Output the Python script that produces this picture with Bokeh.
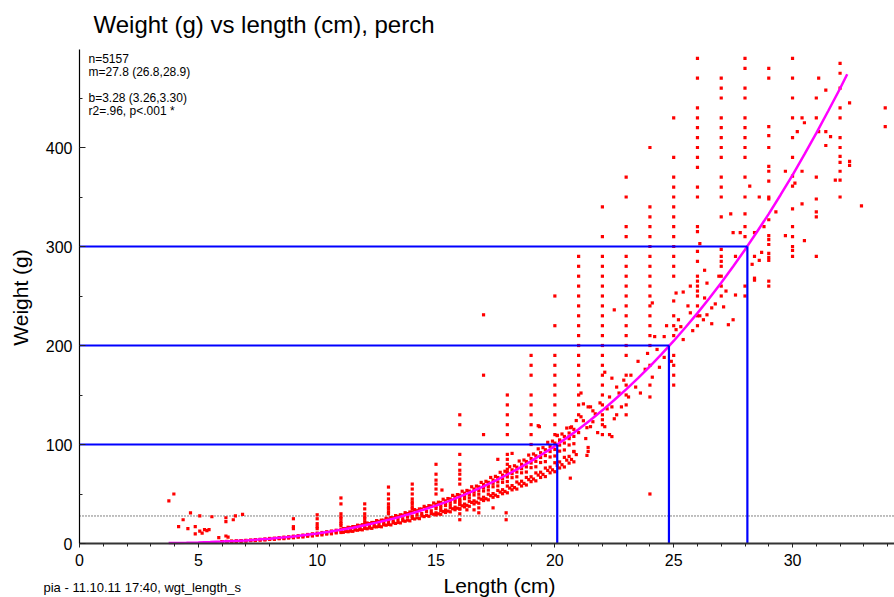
import math
from bokeh.plotting import figure
from bokeh.models import Range1d, SingleIntervalTicker, Label
from bokeh.embed import file_html
from bokeh.resources import INLINE

# ---------------- data ----------------
title_text = "Weight (g) vs length (cm), perch"
x_label = "Length (cm)"
y_label = "Weight (g)"
stats_lines = ["n=5157", "m=27.8 (26.8,28.9)", "b=3.28 (3.26,3.30)", "r2=.96, p<.001 *"]
footer_text = "pia - 11.10.11 17:40, wgt_length_s"

x_max = 34.29      # right end of the length axis
y_max = 499        # top end of the weight axis
mean_weight = 27.8

# reference lengths at 100, 200 and 300 g (blue lines)
ref_len = [20.1, 24.8, 28.1]
ref_wgt = [100, 200, 300]

# fitted curve (magenta)
curve_len = [3.75, 4, 4.5, 5, 5.5, 6, 6.5, 7, 7.5, 8, 8.5, 9, 9.5, 10, 10.5, 11, 11.5, 12,
             12.5, 13, 13.5, 14, 14.5, 15, 15.5, 16, 16.5, 17, 17.5, 18, 18.5, 19, 19.5, 20,
             20.5, 21, 21.5, 22, 22.5, 23, 23.5, 24, 24.5, 25, 25.5, 26, 26.5, 27, 27.5, 28,
             28.5, 29, 29.5, 30, 30.5, 31, 31.5, 32, 32.3]
curve_wgt = [0.40, 0.50, 0.74, 1.04, 1.43, 1.90, 2.47, 3.15, 3.94, 4.87, 5.94, 7.17, 8.57, 10.1,
             11.9, 13.8, 16.0, 18.4, 21.1, 23.9, 27.1, 30.6, 34.3, 38.3, 42.6, 47.3, 52.4, 57.7,
             63.5, 69.7, 76.2, 83.2, 90.6, 98.4, 106.7, 115.5, 124.8, 134.5, 144.9, 155.7, 167.0,
             179.0, 191.5, 204.6, 218.4, 232.7, 247.7, 263.3, 279.8, 296.8, 314.6, 333.0, 352.3,
             372.2, 393.0, 414.5, 436.9, 459.6, 474.0]

# dense band of fish along the curve: length -> weights
band = {
    6.0: (1.5, 1.8, 2.0), 6.2: (1.8, 1.9, 2.2), 6.4: (1.9, 2.2, 2.4), 6.6: (2.0, 2.4, 2.7),
    6.8: (2.4, 2.6, 3.0), 7.0: (2.5, 2.9, 3.3), 7.2: (2.9, 3.2, 3.5), 7.4: (3.0, 3.5, 3.9),
    7.6: (3.4, 3.8, 4.2), 7.8: (3.6, 4.0, 4.6), 8.0: (4.1, 4.5, 5.1), 8.2: (4.2, 4.9, 5.4),
    8.4: (4.8, 5.2, 5.9), 8.6: (4.9, 5.6, 6.4), 8.8: (5.5, 6.1, 6.8), 9.0: (5.8, 6.6, 7.4),
    9.2: (6.4, 7.0, 7.9), 9.4: (6.6, 7.6, 8.5), 9.6: (7.3, 8.1, 9.1), 9.8: (7.6, 8.7, 9.8),
    10.0: (8.4, 9.1, 10.5), 10.2: (8.7, 9.9, 11.1), 10.4: (9.5, 10.3, 11.9), 10.6: (9.8, 11.2, 12.6),
    10.8: (10.7, 11.7, 13.4), 11.0: (11.1, 12.8, 14.3), 11.2: (12.2, 13.2, 15.1), 11.4: (12.5, 14.3, 16.0),
    11.6: (13.6, 14.8, 17.0), 11.8: (14.1, 16.0, 17.9), 12.0: (15.3, 16.5, 19.1), 12.2: (15.7, 17.9, 20.1),
    12.4: (16.9, 18.4, 21.2), 12.6: (17.3, 19.8, 22.3), 12.8: (18.9, 20.5, 23.5), 13.0: (19.3, 22.0, 24.8),
    13.2: (20.9, 22.6, 26.0), 13.4: (21.3, 24.3, 27.4), 13.6: (23.0, 25.0, 28.7), 13.8: (23.6, 26.8, 30.2),
    14.0: (25.4, 27.5, 31.8), 14.2: (25.9, 29.4, 33.1), 14.4: (27.9, 30.2, 34.8), 14.6: (28.4, 32.3, 36.2),
    14.8: (30.4, 33.0, 37.9), 15.0: (31.0, 35.3, 39.6), 15.2: (33.3, 36.0, 41.4), 15.4: (33.8, 38.4, 43.1),
    15.6: (36.2, 39.1, 45.0), 15.8: (36.7, 41.7, 46.9), 16.0: (39.3, 42.5, 48.9), 16.2: (39.8, 45.3, 50.8),
    16.4: (42.6, 46.1, 52.9), 16.6: (43.1, 49.0, 55.0), 16.8: (46.0, 49.8, 57.2), 17.0: (46.7, 53.1, 59.6),
    17.2: (49.8, 54.0, 61.8), 17.4: (50.4, 57.3, 64.1), 17.6: (53.6, 58.2, 66.6), 17.8: (54.3, 61.8, 69.1),
    18.0: (58.0, 62.6, 71.9), 18.2: (58.5, 66.5, 74.4), 18.4: (62.1, 67.4, 77.1), 18.6: (62.9, 71.4, 80.0),
    18.8: (66.7, 72.2, 82.8), 19.0: (67.4, 76.6, 85.8), 19.2: (71.3, 77.5, 88.6), 19.4: (72.0, 81.8, 91.7),
    19.6: (76.2, 82.7, 94.7), 19.8: (77.1, 87.4, 98.0), 20.0: (81.6, 88.4, 101.4), 20.2: (82.4, 93.3, 104.6),
    20.4: (87.0, 94.5, 108.1), 20.6: (88.0, 99.5, 111.6), 20.8: (92.7, 100.8, 115.3),
}
band2 = {
    11.1: (11.3, 15.1), 11.3: (11.9, 16.4), 11.5: (12.3, 17.1), 11.7: (13.4, 18.5), 11.9: (13.8, 19.0),
    12.1: (14.9, 20.7), 12.3: (15.3, 21.2), 12.5: (16.8, 23.1), 12.7: (16.9, 23.6), 12.9: (18.5, 25.5),
    13.1: (18.8, 26.2), 13.3: (20.3, 28.2), 13.5: (20.8, 29.0), 13.7: (22.5, 31.1), 13.9: (22.9, 31.8),
    14.1: (24.8, 34.2), 14.3: (25.1, 34.9), 14.5: (27.2, 37.5), 14.7: (27.5, 38.2), 14.9: (29.6, 40.9),
    15.1: (30.0, 41.7), 15.3: (32.3, 44.7), 15.5: (32.7, 45.4), 15.7: (35.1, 48.6), 15.9: (35.6, 49.4),
    16.1: (38.1, 52.8), 16.3: (38.6, 53.6), 16.5: (41.5, 57.3), 16.7: (41.8, 58.0), 16.9: (44.7, 61.7),
    17.1: (45.2, 62.8), 17.3: (48.3, 66.7), 17.5: (48.8, 67.8), 17.7: (51.9, 71.9), 17.9: (52.6, 73.0),
    18.1: (56.0, 77.6), 18.3: (56.5, 78.5), 18.5: (60.2, 83.3), 18.7: (60.7, 84.3), 18.9: (64.5, 89.3),
    19.1: (65.1, 90.4), 19.3: (69.1, 95.6), 19.5: (69.8, 96.8), 19.7: (73.8, 102.2), 19.9: (74.4, 103.4),
    20.1: (79.0, 109.3), 20.3: (79.6, 110.6), 20.5: (84.2, 116.6), 20.7: (84.9, 117.8), 20.9: (89.8, 124.2),
}
band3 = {
    15.0: (28.9, 37.3), 15.2: (29.5, 38.6), 15.4: (31.3, 40.7), 15.6: (32.0, 42.0), 15.8: (34.1, 44.2),
    16.0: (34.8, 45.6), 16.2: (37.0, 48.1), 16.4: (37.6, 49.4), 16.6: (40.0, 52.0), 16.8: (40.7, 53.4),
    17.0: (43.4, 56.3), 17.2: (44.1, 57.7), 17.4: (46.7, 60.8), 17.6: (47.5, 62.2), 17.8: (50.3, 65.4),
    18.0: (51.2, 67.3), 18.2: (54.2, 70.6), 18.4: (55.0, 72.2), 18.6: (58.1, 75.6), 18.8: (59.1, 77.4),
    19.0: (62.5, 81.3), 19.2: (63.3, 83.0), 19.4: (66.7, 86.9), 19.6: (67.6, 88.8), 19.8: (71.4, 92.9),
    20.0: (72.5, 95.0), 20.2: (76.3, 99.4), 20.4: (77.3, 101.5), 20.6: (81.2, 105.9), 20.8: (82.5, 108.2),
}

# fish measured to whole cm, weighed to 10 g: length -> weights
columns = {
    9: [25, 17, 15],
    10: [29, 25, 20, 17, 15],
    11: [46, 40, 30, 27, 25, 22, 20, 18],
    12: [40, 35, 30, 27, 25, 22],
    13: [57, 50, 45, 40, 37, 35, 32, 30],
    14: [60, 55, 50, 45, 42, 40, 37, 35],
    15: [80, 70, 64, 60, 55, 50],
    16: [130, 120, 90, 80, 74, 70, 65, 60, 43, 40, 35, 30, 24],
    17: [231, 170, 110],
    18: [150, 140, 130, 120, 110, 90, 85, 80, 75, 70],
    19: [190, 180, 170, 150, 140, 130, 120, 110, 100],
    20: [250, 220, 190, 180, 170, 160, 150, 140, 130, 120, 110],
    21: [290, 280, 270, 260, 250, 240, 230, 220, 210, 200, 190, 180, 170, 160, 150, 140, 130],
    22: [340, 310, 290, 280, 270, 260, 250, 240, 230, 220, 210, 200, 190, 180, 170, 160, 150,
         140, 130, 120, 110],
    23: [370, 350, 320, 310, 290, 280, 270, 260, 250, 240, 230, 220, 210, 200, 190, 170, 160,
         150, 140, 130],
    24: [400, 340, 330, 320, 310, 300, 290, 280, 270, 260, 250, 240, 230, 220, 210, 200, 180,
         160, 148, 50],
    25: [430, 390, 370, 360, 350, 340, 330, 320, 310, 300, 290, 280, 270, 245, 230, 220, 210,
         190, 180, 170, 160],
    26: [490, 470, 440, 430, 420, 410, 400, 390, 380, 360, 350, 320, 315, 295, 285, 270, 265,
         260, 255, 250, 240, 230, 220],
    27: [470, 460, 450, 430, 420, 410, 400, 390, 370, 360, 350, 330, 297, 290, 285, 280, 270,
         260, 250],
    28: [490, 480, 460, 450, 430, 420, 410, 400, 390, 370, 350, 333, 320, 310, 260, 250],
    29: [480, 470, 421, 412, 400, 381, 376, 366, 350, 348, 327, 311, 307, 302, 293, 286, 265, 260],
    30: [490, 470, 450, 430, 410, 390, 371, 361, 338, 320, 310, 300, 296, 290],
    31: [450, 430, 370, 348, 335, 330, 290],
    32: [485, 475, 460, 440, 430, 410, 400, 391, 385, 376, 367, 350],
}

# scattered individual fish
misc_pts = [
    (3.76, 43), (3.97, 50), (4.17, 17), (4.36, 24), (4.56, 15), (4.67, 31), (4.87, 17), (4.87, 9.7),
    (5.06, 28), (5.06, 12.5), (5.16, 10.5), (5.26, 14), (5.36, 13), (5.45, 14), (5.57, 27), (5.86, 6),
    (6.16, 26), (6.16, 22), (6.16, 7.6), (6.25, 6.5), (6.47, 24), (6.56, 28), (6.86, 29.4),
    (15.25, 54), (16.3, 34), (16.6, 34), (16.8, 36), (16.8, 31), (17.4, 36), (17.95, 31), (17.95, 24),
    (18.2, 91), (17.6, 85), (19.35, 118), (19.3, 119), (20.1, 109), (20.2, 104), (20.6, 108),
    (20.65, 117), (20.8, 93), (21.35, 89), (21.35, 117), (21.2, 124), (21.6, 134), (21.4, 138),
    (21.1, 152), (21.2, 141), (21.5, 138), (21.6, 123), (21.4, 97), (21.4, 93), (20.65, 66),
    (22.1, 173), (22.4, 167), (22.6, 158), (22.4, 138), (22.6, 130), (22.4, 108), (22.2, 136),
    (22.3, 110), (22.5, 236), (24.1, 243), (24.2, 209), (24.6, 209), (25.1, 253), (25.4, 254),
    (25.7, 260), (26.1, 303), (26.3, 276), (26.4, 263), (26.6, 238), (26.75, 242), (27.1, 239),
    (27.3, 221), (27.5, 226), (27.4, 333), (27.5, 314), (27.8, 314), (27.6, 251), (28.4, 314),
    (28.4, 290), (28.7, 294), (29.0, 289), (28.4, 268), (28.6, 286), (28.4, 266), (26.4, 231),
    (26.25, 226), (25.3, 219), (25.1, 216), (25.7, 233), (28.2, 361), (28.6, 350), (29.7, 376),
    (29.7, 311), (30.1, 364), (30.4, 430), (30.5, 425), (30.2, 416), (30.4, 376), (30.4, 343),
    (30.5, 306), (31.1, 470), (31.4, 458), (31.1, 416), (31.4, 416), (31.6, 411), (31.4, 402),
    (32.4, 445), (32.4, 386), (32.4, 382), (32.9, 341), (31.8, 367), (33.9, 440), (33.9, 421),
]
cloud_pts = [
    (21.0, 112), (21.1, 128), (21.3, 106), (21.5, 118), (21.7, 131), (21.8, 112), (21.9, 142),
    (22.0, 125), (22.1, 118), (22.3, 148), (22.5, 126), (22.7, 152), (22.8, 138), (22.9, 165),
    (23.1, 148), (23.2, 170), (23.4, 158), (23.5, 184), (23.6, 152), (23.8, 176), (23.9, 192),
    (24.1, 168), (24.3, 196), (24.4, 178), (24.6, 188), (24.7, 220), (24.9, 184), (25.2, 226),
    (25.4, 206), (25.6, 240), (25.8, 215), (26.1, 230), (26.3, 248), (26.6, 222), (26.9, 270),
    (27.2, 255), (27.6, 290), (28.3, 282), (28.8, 320), (29.3, 335),
]

# ---------------- assemble points ----------------
pts_x, pts_y = [], []
for group in (band, band2, band3, columns):
    for L, ws in group.items():
        for w in ws:
            pts_x.append(L); pts_y.append(w)
for L, w in misc_pts + cloud_pts:
    pts_x.append(L); pts_y.append(w)

FONT = "Liberation Sans"
W, H = 894, 597
PLOT_LEFT, PLOT_BOTTOM = 79, 54          # pixel position of the axes origin on the canvas
PX_X = (W - PLOT_LEFT) / x_max           # pixels per cm
PX_Y = 0.99                              # pixels per gram

# the frame covers the whole canvas; the axes sit at the data origin (fixed_location),
# so every text, including the title and the footer, can be placed freely on it
p = figure(width=W, height=H, output_backend="svg", toolbar_location=None,
           x_range=Range1d(-PLOT_LEFT / PX_X, x_max),
           y_range=Range1d(-PLOT_BOTTOM / PX_Y, (H - PLOT_BOTTOM) / PX_Y),
           min_border=0)
p.outline_line_color = None
p.grid.visible = False
p.title.visible = False
p.background_fill_color = "white"
p.border_fill_color = "white"

xa = p.xaxis[0]
ya = p.yaxis[0]
xa.fixed_location = 0
ya.fixed_location = 0
xa.bounds = (0, x_max)
ya.bounds = (0, y_max)
xa.ticker = SingleIntervalTicker(interval=5, num_minor_ticks=5)
ya.ticker = SingleIntervalTicker(interval=100, num_minor_ticks=2)
for ax in (xa, ya):
    ax.major_label_text_font = FONT
    ax.major_label_text_font_size = "16px"
    ax.major_label_text_color = "black"
    ax.major_tick_line_color = "#222222"
    ax.minor_tick_line_color = "#222222"
xa.axis_line_width = 2
xa.axis_line_color = "#333333"
xa.major_tick_in = 0
xa.major_tick_out = 4
xa.minor_tick_in = 0
xa.minor_tick_out = 3
xa.major_label_standoff = 6
ya.axis_line_width = 1.2
ya.axis_line_color = "black"
ya.major_tick_in = 6
ya.major_tick_out = 0
ya.minor_tick_in = 3
ya.minor_tick_out = 0
ya.major_label_standoff = 7

# data
p.segment(x0=[0], y0=[mean_weight], x1=[x_max], y1=[mean_weight],
          line_color="black", line_width=1, line_dash="1 2")
p.scatter(pts_x, pts_y, marker="square", size=3.2, fill_color="#ff0000", line_color=None)
p.line(curve_len, curve_wgt, line_color="#ff00ff", line_width=2.5)
p.segment(x0=[0] * len(ref_len), y0=ref_wgt, x1=ref_len, y1=ref_wgt,
          line_color="#0000ff", line_width=2.2)
p.segment(x0=ref_len, y0=[0] * len(ref_len), x1=ref_len, y1=ref_wgt,
          line_color="#0000ff", line_width=2.2)

# texts, in canvas pixels (x from the left, y up from the bottom)
def label(x, y, text, size, align="left", baseline="alphabetic", angle=0.0):
    p.add_layout(Label(x=x, y=y, x_units="screen", y_units="screen", text=text,
                       text_font=FONT, text_font_size=size, text_color="black",
                       text_align=align, text_baseline=baseline, angle=angle))

label(93, H - 24, title_text, "24px")
for txt, base in zip(stats_lines, [58, 71, 97, 110]):
    label(88, H - base, txt, "12px")
label(499, H - 585, x_label, "21px", align="center")
label(20, H - 297, y_label, "21px", align="center", baseline="middle", angle=math.pi / 2)
label(43, H - 587, footer_text, "13px")

open("out.html", "w").write(file_html(p, INLINE))
